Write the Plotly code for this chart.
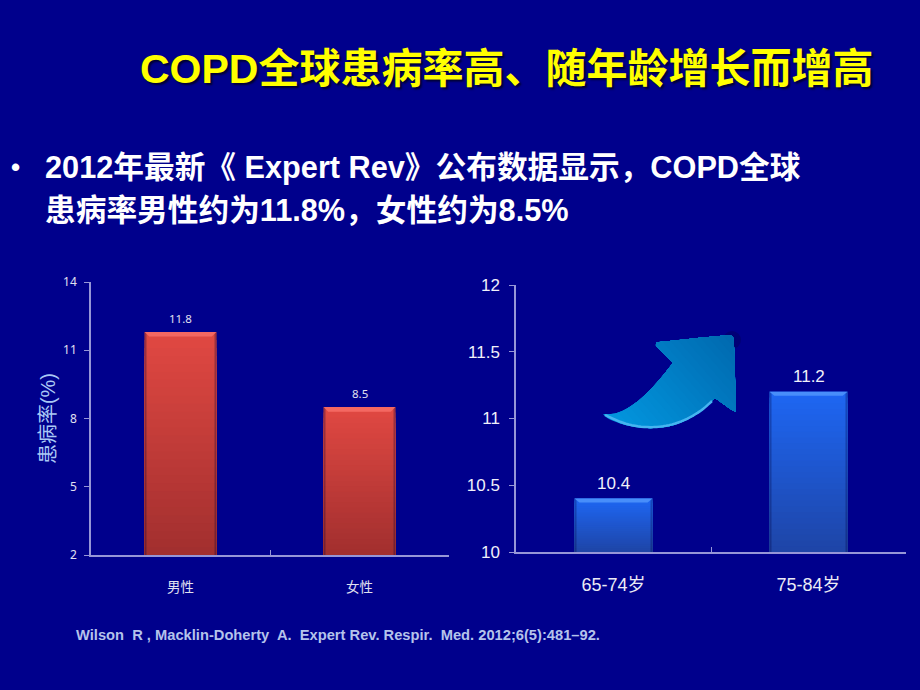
import numpy as np
import plotly.graph_objects as go

W, H = 920, 690
BG = "#00008C"

title_text = "COPD全球患病率高、随年龄增长而增高"
bullet_lines = ["2012年最新《 Expert Rev》公布数据显示，COPD全球", "患病率男性约为11.8%，女性约为8.5%"]
source_text = "Wilson  R , Macklin-Doherty  A.  Expert Rev. Respir.  Med. 2012;6(5):481–92."

sex_categories = ["男性", "女性"]
sex_values = [11.8, 8.5]
sex_ticks = [2, 5, 8, 11, 14]
sex_axis_title = "患病率(%)"

age_categories = ["65-74岁", "75-84岁"]
age_values = [10.4, 11.2]
age_ticks = [10, 10.5, 11, 11.5, 12]
age_ticklabels = ["10", "10.5", "11", "11.5", "12"]

CJK = "Liberation Sans, Noto Sans CJK SC, sans-serif"
SMALL = "Noto Sans, Noto Sans CJK SC, sans-serif"
AXIS = "rgb(150,150,215)"
BAR_W = 0.2  # half width in category units


def px(x):
    return x / W


def py(y):
    return 1 - y / H


def mix(a, b, t):
    return "rgb(%d,%d,%d)" % tuple(round(a[i] + (b[i] - a[i]) * t) for i in range(3))


def bar_overlay(values, floor, xref, yref, top, bottom, bevel, bevel_h):
    """Gradient and bevel laid over the real bars, derived from the values."""
    out = []
    n = 28
    for i, v in enumerate(values):
        for k in range(n):
            t = k / n
            out.append(dict(type="rect", xref=xref, yref=yref, x0=i - BAR_W, x1=i + BAR_W,
                            y0=floor, y1=floor + (v - floor) * (1 - t),
                            fillcolor=mix(top, bottom, t), line_width=0, layer="above"))
        for side in (-1, 1):
            for j, op in enumerate((0.35, 0.18)):
                a = i + side * (BAR_W - 0.006 * j)
                b = i + side * (BAR_W - 0.006 * (j + 1))
                out.append(dict(type="rect", xref=xref, yref=yref, x0=a, x1=b, y0=floor, y1=v,
                                fillcolor="rgba(0,0,60,%g)" % op, line_width=0, layer="above"))
        inset = 0.025
        path = "M %g,%g L %g,%g L %g,%g L %g,%g Z" % (i - BAR_W, v, i + BAR_W, v,
                                                      i + BAR_W - inset, v - bevel_h,
                                                      i - BAR_W + inset, v - bevel_h)
        out.append(dict(type="path", xref=xref, yref=yref, path=path,
                        fillcolor=mix(bevel, bevel, 0), line_width=0, layer="above"))
    return out


def chaikin(points, rounds=3):
    pts = list(points)
    for _ in range(rounds):
        new = [pts[0]]
        for a, b in zip(pts[:-1], pts[1:]):
            new.append((a[0] * 0.75 + b[0] * 0.25, a[1] * 0.75 + b[1] * 0.25))
            new.append((a[0] * 0.25 + b[0] * 0.75, a[1] * 0.25 + b[1] * 0.75))
        new.append(pts[-1])
        pts = new
    return pts


# Decorative arrow outline, in page pixels
arrow_upper = [(603, 414), (617, 414), (637, 403), (657, 383), (673, 363)]
arrow_head = [(656, 346), (656, 342), (659, 342), (727, 335), (733, 336), (734, 342), (736, 408),
              (736, 412), (733, 411), (715, 398)]
arrow_lower = [(715, 398), (700, 413), (677, 425), (652, 429), (627, 426), (608, 419), (603, 414)]
arrow_px = chaikin(arrow_upper) + chaikin(arrow_head)[1:-1] + chaikin(arrow_lower)
arrow_edge_px = chaikin([(605, 415), (627, 425), (652, 428), (677, 424), (700, 412), (712, 401)])


def clip_halfplane(poly, nx, ny, c):
    out = []
    for i in range(len(poly)):
        p, q = poly[i], poly[(i + 1) % len(poly)]
        dp = p[0] * nx + p[1] * ny - c
        dq = q[0] * nx + q[1] * ny - c
        if dp >= 0:
            out.append(p)
        if dp * dq < 0:
            t = dp / (dp - dq)
            out.append((p[0] + (q[0] - p[0]) * t, p[1] + (q[1] - p[1]) * t))
    return out


def poly_path(poly):
    return "M " + " L ".join("%.4f,%.4f" % (px(x), py(y)) for x, y in poly) + " Z"


shapes = []
shapes += bar_overlay(sex_values, 2, "x", "y", (224, 72, 66), (160, 46, 46), (244, 104, 98), 0.2)
shapes += bar_overlay(age_values, 10, "x2", "y2", (30, 102, 242), (30, 68, 165), (72, 142, 250), 0.03)

# soft shadow at the arrow's corner
shapes.append(dict(type="circle", xref="paper", yref="paper", x0=px(723), x1=px(741), y0=py(349), y1=py(331),
                   fillcolor="rgba(0,0,90,0.45)", line_width=0))
# arrow gradient: overlapping half-plane clips, painted from lower-left to upper-right
nx, ny = 0.75, -0.66
proj = [x * nx + y * ny for x, y in arrow_px]
lo, hi = min(proj), max(proj)
steps = 24
for k in range(steps):
    t = k / steps
    poly = clip_halfplane(arrow_px, nx, ny, lo + (hi - lo) * t)
    if len(poly) >= 3:
        shapes.append(dict(type="path", xref="paper", yref="paper", path=poly_path(poly),
                           fillcolor=mix((2, 150, 222), (0, 104, 174), t), line_width=0))
shapes.append(dict(type="path", xref="paper", yref="paper",
                   path="M " + " L ".join("%.4f,%.4f" % (px(x), py(y)) for x, y in arrow_edge_px),
                   line=dict(color="rgb(70,180,240)", width=2.5), fillcolor="rgba(0,0,0,0)"))

fig = go.Figure()
fig.add_trace(go.Bar(x=sex_categories, y=sex_values, xaxis="x", yaxis="y", width=0.4,
                     marker=dict(color="rgb(200,60,58)", line_width=0), showlegend=False))
fig.add_trace(go.Bar(x=age_categories, y=age_values, xaxis="x2", yaxis="y2", width=0.4,
                     marker=dict(color="rgb(30,90,215)", line_width=0), showlegend=False))

annotations = [
    dict(text="<b>%s</b>" % title_text, x=px(138), y=py(69), xref="paper", yref="paper", showarrow=False,
         xanchor="left", yanchor="middle",
         font=dict(family=CJK, size=41, color="#FFFF00", shadow="2px 2px 2px rgba(0,0,40,0.9)")),
    dict(text="<b>•</b>", x=px(9), y=py(167), xref="paper", yref="paper", showarrow=False,
         xanchor="left", yanchor="middle", font=dict(family=CJK, size=26, color="white")),
    dict(text="<b>%s</b>" % bullet_lines[0], x=px(43), y=py(167), xref="paper", yref="paper", showarrow=False,
         xanchor="left", yanchor="middle", font=dict(family=CJK, size=30.7, color="white")),
    dict(text="<b>%s</b>" % bullet_lines[1], x=px(43), y=py(211), xref="paper", yref="paper", showarrow=False,
         xanchor="left", yanchor="middle", font=dict(family=CJK, size=30.7, color="white")),
    dict(text="<b>%s</b>" % source_text, x=px(74), y=py(635), xref="paper", yref="paper", showarrow=False,
         xanchor="left", yanchor="middle", font=dict(family=CJK, size=14.7, color="rgb(180,195,235)")),
]
for cat, v in zip(sex_categories, sex_values):
    annotations.append(dict(text=str(v), x=cat, y=v, xref="x", yref="y", showarrow=False, yanchor="middle",
                            yshift=14, font=dict(family=SMALL, size=11.5, color="rgb(225,225,240)")))
for cat, v in zip(age_categories, age_values):
    annotations.append(dict(text=str(v), x=cat, y=v, xref="x2", yref="y2", showarrow=False, yanchor="middle",
                            yshift=15, font=dict(family=CJK, size=17, color="rgb(240,240,250)")))

fig.update_layout(
    width=W, height=H, margin=dict(l=0, r=0, t=0, b=0, autoexpand=False), paper_bgcolor=BG, plot_bgcolor=BG,
    showlegend=False, shapes=shapes, annotations=annotations,
    xaxis=dict(domain=[px(91), px(449)], anchor="y", type="category", tickson="boundaries", ticks="inside",
               ticklen=5, tickcolor=AXIS, linecolor=AXIS, linewidth=1.5, showgrid=False, zeroline=False,
               ticklabelstandoff=19, tickfont=dict(family=SMALL, size=13.5, color="rgb(225,225,240)")),
    yaxis=dict(domain=[py(555), py(282)], anchor="x", range=[2, 14], tickvals=sex_ticks, ticks="outside",
               ticklen=5, tickcolor=AXIS, linecolor=AXIS, linewidth=1.5, showgrid=False, zeroline=False,
               ticklabelstandoff=5, tickfont=dict(family=SMALL, size=12, color="rgb(225,225,240)"),
               title=dict(text=sex_axis_title, standoff=2,
                          font=dict(family=CJK, size=20, color="rgb(170,200,245)"))),
    xaxis2=dict(domain=[px(516), px(906)], anchor="y2", type="category", tickson="boundaries", ticks="inside",
                ticklen=5, tickcolor=AXIS, linecolor=AXIS, linewidth=1.5, showgrid=False, zeroline=False,
                ticklabelstandoff=16, tickfont=dict(family=CJK, size=18, color="rgb(235,235,245)")),
    yaxis2=dict(domain=[py(552), py(285)], anchor="x2", range=[10, 12], tickvals=age_ticks,
                ticktext=age_ticklabels, ticks="outside", ticklen=5, tickcolor=AXIS, linecolor=AXIS,
                linewidth=1.5, showgrid=False, zeroline=False, ticklabelstandoff=6,
                tickfont=dict(family=CJK, size=17, color="rgb(240,240,250)")),
)

fig.write_html("out.html", config={"displayModeBar": False},
               post_script="document.body.style.margin='0';document.body.style.overflow='hidden';")
